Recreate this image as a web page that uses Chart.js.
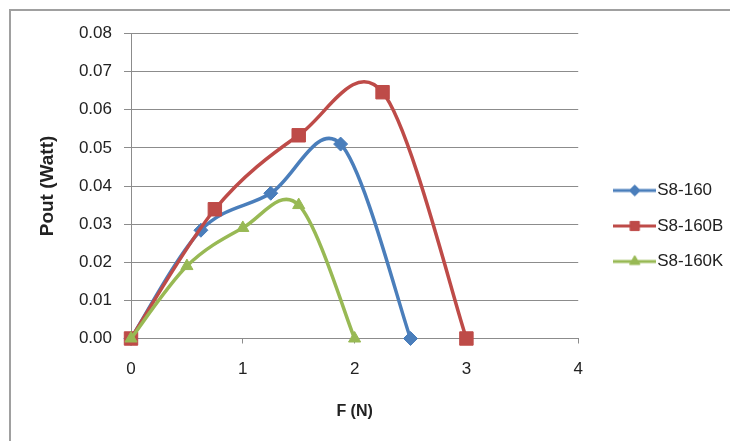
<!DOCTYPE html>
<html><head><meta charset="utf-8">
<script src="https://cdn.jsdelivr.net/npm/chart.js@4.4.1/dist/chart.umd.min.js"></script>
<style>
html,body{margin:0;padding:0;background:#fff;width:730px;height:441px;overflow:hidden;}
#frame{position:absolute;left:9px;top:9px;width:719px;height:431px;border-left:2px solid #a0a0a0;border-top:2px solid #a0a0a0;}
#wrap{position:absolute;left:0;top:23px;width:730px;height:406px;}
</style></head><body>
<div id="frame"></div>
<div id="wrap"><canvas id="c" width="730" height="406"></canvas></div>
<script>
// Data
const seriesNames = ['S8-160', 'S8-160B', 'S8-160K'];
const forceS8_160  = [0, 0.625, 1.25, 1.875, 2.5];
const powerS8_160  = [0, 0.0284, 0.0381, 0.0510, 0];
const forceS8_160B = [0, 0.75, 1.5, 2.25, 3.0];
const powerS8_160B = [0, 0.0339, 0.0533, 0.0646, 0];
const forceS8_160K = [0, 0.5, 1.0, 1.5, 2.0];
const powerS8_160K = [0, 0.0190, 0.0290, 0.0350, 0];
const xTicks = [0, 1, 2, 3, 4];
const yTicks = [0, 0.01, 0.02, 0.03, 0.04, 0.05, 0.06, 0.07, 0.08];

const FONT = "'Liberation Sans', Arial, sans-serif";
const TXT = '#222';
const GRID = '#8c8c8c';
const COLORS = ['#4A7EBB', '#BE4B48', '#98B954'];
const STYLES = ['rectRot', 'rect', 'triangle'];

function xy(xs, ys) { return xs.map((x, i) => ({x: x, y: ys[i]})); }

function makeIcon(color, style, radius) {
  const c = document.createElement('canvas');
  c.width = 43; c.height = 16;
  const g = c.getContext('2d');
  g.strokeStyle = color; g.lineWidth = 3;
  g.beginPath(); g.moveTo(0, 8); g.lineTo(43, 8); g.stroke();
  g.fillStyle = color; g.strokeStyle = color; g.lineWidth = 1;
  Chart.helpers.drawPoint(g, {pointStyle: style, radius: radius, borderWidth: 1}, 21.5, 8);
  return c;
}
const icons = [makeIcon(COLORS[0], 'rectRot', 5.5), makeIcon(COLORS[1], 'rect', 6.5), makeIcon(COLORS[2], 'triangle', 6)];

// Excel-style smoothing: uniform Catmull-Rom control points (1/6 of neighbour chord)
const excelSmooth = {
  id: 'excelSmooth',
  beforeDatasetDraw(chart, args) {
    const meta = args.meta;
    const pts = meta.data;
    const n = pts.length;
    for (let i = 0; i < n; i++) {
      const p = pts[i];
      const prev = pts[Math.max(i - 1, 0)];
      const next = pts[Math.min(i + 1, n - 1)];
      const dx = (next.x - prev.x) / 6, dy = (next.y - prev.y) / 6;
      p.cp1x = p.x - dx; p.cp1y = p.y - dy;
      p.cp2x = p.x + dx; p.cp2y = p.y + dy;
    }
    meta.dataset._pointsUpdated = true;
    meta.dataset._path = undefined;
  }
};

const ds = (i, xs, ys, radius, order) => ({
  label: seriesNames[i],
  data: xy(xs, ys),
  borderColor: COLORS[i],
  backgroundColor: COLORS[i],
  pointBackgroundColor: COLORS[i],
  pointBorderColor: COLORS[i],
  pointStyle: STYLES[i],
  pointRadius: radius,
  pointBorderWidth: 1,
  borderWidth: 3.5,
  tension: 0.5,
  fill: false,
  clip: false,
  order: order
});

const defaultGen = Chart.defaults.plugins.legend.labels.generateLabels;

const chart = new Chart(document.getElementById('c'), {
  type: 'line',
  plugins: [excelSmooth],
  data: {
    datasets: [
      ds(0, forceS8_160, powerS8_160, 7, 3),
      ds(1, forceS8_160B, powerS8_160B, 9.5, 2),
      ds(2, forceS8_160K, powerS8_160K, 7, 1)
    ]
  },
  options: {
    responsive: false,
    animation: false,
    events: [],
    layout: {padding: {top: 0, bottom: 0, left: 0, right: 0}},
    scales: {
      x: {
        type: 'linear', min: 0, max: 4,
        afterBuildTicks: s => { s.ticks = xTicks.map(v => ({value: v})); },
        ticks: {padding: 16, color: TXT, font: {family: FONT, size: 17}},
        grid: {drawOnChartArea: false, drawTicks: true, tickLength: 5, color: GRID},
        border: {display: true, color: GRID, width: 1},
        title: {display: true, text: 'F (N)', color: TXT, font: {family: FONT, size: 16, weight: 'bold'}, padding: {top: 0, bottom: 8}},
        afterFit: s => { s.height = 90.5; }
      },
      y: {
        type: 'linear', min: 0, max: 0.08,
        afterBuildTicks: s => { s.ticks = yTicks.map(v => ({value: v})); },
        ticks: {padding: 12, color: TXT, font: {family: FONT, size: 17}, callback: v => Number(v).toFixed(2)},
        grid: {color: GRID, lineWidth: 1, tickLength: 7, drawTicks: true},
        border: {display: true, color: GRID, width: 1},
        title: {display: true, text: 'Pout (Watt)', color: TXT, font: {family: FONT, size: 19, weight: 'bold'}, padding: {top: 36, bottom: 0}},
        afterFit: s => { s.width = 131; s.paddingTop = 10; s.paddingBottom = 10; }
      },
      y2: {
        type: 'linear', position: 'right', display: true,
        ticks: {display: false}, grid: {display: false}, border: {display: false},
        afterFit: s => { s.width = 24; s.paddingTop = 0; s.paddingBottom = 0; }
      }
    },
    plugins: {
      tooltip: {enabled: false},
      legend: {
        position: 'right',
        labels: {
          usePointStyle: true,
          pointStyleWidth: 28,
          padding: 18.5,
          color: TXT,
          font: {family: FONT, size: 17},
          generateLabels: ch => {
            const items = defaultGen(ch);
            items.sort((a, b) => a.datasetIndex - b.datasetIndex);
            items.forEach(it => { it.pointStyle = icons[it.datasetIndex]; });
            return items;
          }
        }
      }
    }
  }
});
// place the legend so its items start where the reference has them
const legendW = chart.legend.width;
chart.options.layout.padding.right = 730 - 601 - legendW;
chart.update();
</script>
</body></html>
